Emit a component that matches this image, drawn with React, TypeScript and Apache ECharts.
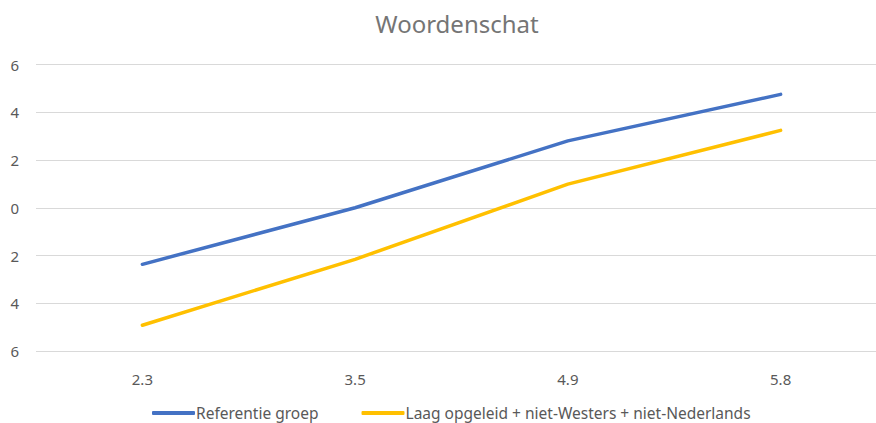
import React, { useEffect, useRef } from "react";
import * as echarts from "echarts";

const categories = ["2.3", "3.5", "4.9", "5.8"];
const referentieGroep = [-2.37, 0.0, 2.8, 4.75];
const laagOpgeleid = [-4.92, -2.16, 0.99, 3.24];
const seriesNames = ["Referentie groep", "Laag opgeleid + niet-Westers + niet-Nederlands"];

export default function App() {
  const ref = useRef<HTMLDivElement>(null);
  useEffect(() => {
    if (!ref.current) return;
    const chart = echarts.init(ref.current, null, { renderer: "svg" });
    const font = "Noto Sans";
    chart.setOption({
      animation: false,
      backgroundColor: "#ffffff",
      title: {
        text: "Woordenschat",
        left: 452,
        textAlign: "center",
        top: 6,
        textStyle: { fontFamily: font, fontSize: 24, fontWeight: "normal", color: "#757575" },
      },
      legend: {
        left: 147,
        top: 400,
        itemWidth: 43,
        itemHeight: 4,
        itemGap: 43,
        icon: "roundRect",
        textStyle: { fontFamily: font, fontSize: 15.5, color: "#595959", padding: [0, 0, 0, -4] },
        data: seriesNames,
      },
      grid: {
        left: 36,
        width: 851,
        top: 64.5,
        bottom: 72,
        containLabel: false,
        outerBoundsMode: "none",
      },
      xAxis: {
        type: "category",
        data: categories,
        boundaryGap: true,
        axisLine: { show: false },
        axisTick: { show: false },
        axisLabel: { fontFamily: font, fontSize: 15, color: "#595959", margin: 20 },
      },
      yAxis: {
        type: "value",
        min: -6,
        max: 6,
        interval: 2,
        axisLine: { show: false },
        axisTick: { show: false },
        splitLine: { lineStyle: { color: "#d9d9d9", width: 1 } },
        axisLabel: {
          fontFamily: font,
          fontSize: 15,
          color: "#595959",
          margin: 17,
          formatter: (v: number) => String(Math.abs(v)),
        },
      },
      series: [
        {
          name: seriesNames[0],
          type: "line",
          data: referentieGroep,
          symbol: "none",
          lineStyle: { color: "#4472C4", width: 3.5, cap: "round", join: "round" },
          itemStyle: { color: "#4472C4" },
        },
        {
          name: seriesNames[1],
          type: "line",
          data: laagOpgeleid,
          symbol: "none",
          lineStyle: { color: "#FFC000", width: 3.5, cap: "round", join: "round" },
          itemStyle: { color: "#FFC000" },
        },
      ],
    });
    return () => chart.dispose();
  }, []);
  return (
    <div
      ref={ref}
      style={{ position: "fixed", left: 0, top: 0, width: 876, height: 423, background: "#fff", overflow: "hidden" }}
    />
  );
}
